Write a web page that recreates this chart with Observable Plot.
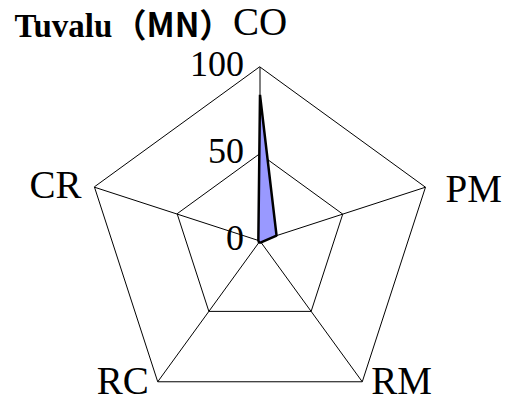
<!DOCTYPE html>
<html><head><meta charset="utf-8">
<script src="https://cdn.jsdelivr.net/npm/d3@7"></script>
<script src="https://cdn.jsdelivr.net/npm/@observablehq/plot@0.6"></script>
<style>
body{margin:0;background:#fff}
svg{display:block}
</style>
</head><body><div id="chart"></div>
<script>
// Radar chart of five indicators for Tuvalu (MN)
const titleName = "Tuvalu";
const titleCode = "（MN）";
const axes = ["CO", "PM", "RM", "RC", "CR"];
const values = [84, 10, 1, 1, 1];
const gridLevels = [50, 100];
const tickLabels = [0, 50, 100];

// axis i points up for CO, then proceeds clockwise
const angle = i => Math.PI / 2 - i * 2 * Math.PI / axes.length;
const px = (v, i) => v * Math.cos(angle(i));
const py = (v, i) => v * Math.sin(angle(i));

const series = axes.map((a, i) => ({axis: a, x: px(values[i], i), y: py(values[i], i)}));
const grid = gridLevels.flatMap(l => axes.map((a, i) => ({level: l, x: px(l, i), y: py(l, i)})));
const spokes = axes.map((a, i) => ({axis: a, x: px(100, i), y: py(100, i)}));
const ticks = tickLabels.map(t => ({label: String(t), x: 0, y: t}));

const serif = "Liberation Serif, Times New Roman, serif";
const gothic = "Noto Sans CJK JP, sans-serif";
const labelSize = 39;
const pick = names => spokes.filter(d => names.includes(d.axis));
const axisLabel = (name, o) => Plot.text(pick([name]), {x: "x", y: "y", text: "axis", fontSize: labelSize, fontFamily: serif, fill: "black", ...o});

const chart = Plot.plot({
  width: 510,
  height: 401,
  margin: 0,
  style: {fontFamily: serif, background: "white"},
  x: {domain: [-100, 100], range: [85.5, 433.5], axis: null},
  y: {domain: [-100, 100], range: [414.5, 66.5], axis: null},
  marks: [
    Plot.line(grid, {x: "x", y: "y", z: "level", curve: "linear-closed", stroke: "black", strokeWidth: 1}),
    Plot.link(spokes, {x1: 0, y1: 0, x2: "x", y2: "y", stroke: "black", strokeWidth: 1}),
    Plot.line(series, {x: "x", y: "y", curve: "linear-closed", fill: "#9999ff", stroke: "black", strokeWidth: 2.5, strokeLinejoin: "miter"}),
    Plot.text(ticks, {x: "x", y: "y", text: "label", textAnchor: "end", dx: -16, dy: -3, fontSize: 36, fontFamily: serif, fill: "black"}),
    axisLabel("CO", {textAnchor: "middle", dy: -44}),
    axisLabel("PM", {textAnchor: "start", dx: 20, dy: 2}),
    axisLabel("CR", {textAnchor: "end", dx: -13, dy: -2}),
    axisLabel("RM", {textAnchor: "start", dx: 9, dy: 0}),
    axisLabel("RC", {textAnchor: "end", dx: -9, dy: 0}),
    Plot.text([titleName], {frameAnchor: "top-left", text: d => d, textAnchor: "start", lineAnchor: "bottom", dx: 14, dy: 36, fontSize: 33, fontWeight: "bold", fontFamily: serif, fill: "black"}),
    Plot.text([titleCode], {frameAnchor: "top-left", text: d => d, textAnchor: "start", lineAnchor: "bottom", dx: 113, dy: 36, fontSize: 33, fontWeight: "bold", fontFamily: gothic, fill: "black"})
  ]
});
document.getElementById("chart").append(chart);
</script>
</body></html>
